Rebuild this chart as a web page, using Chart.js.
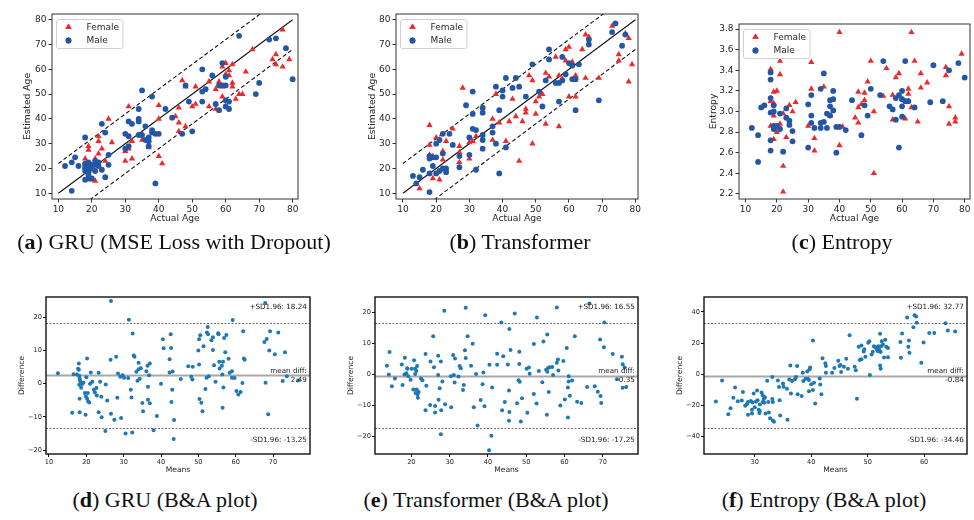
<!DOCTYPE html>
<html>
<head>
<meta charset="utf-8">
<script src="https://cdn.jsdelivr.net/npm/chart.js@4.4.1/dist/chart.umd.min.js"></script>
<style>
  html, body { margin: 0; padding: 0; background: #fff; }
  #fig { position: relative; width: 974px; height: 520px; overflow: hidden; }
  canvas { position: absolute; }
  .cap { position: absolute; font-family: "Liberation Serif", serif; font-size: 22px; color: #111;
         white-space: nowrap; transform: translateX(-50%); line-height: 1; }
</style>
</head>
<body>
<div id="fig">
  <canvas id="chartA"></canvas>
  <canvas id="chartB"></canvas>
  <canvas id="chartC"></canvas>
  <canvas id="chartD"></canvas>
  <canvas id="chartE"></canvas>
  <canvas id="chartF"></canvas>
  <div class="cap" style="left:174px;top:231px">(<b>a</b>) GRU (MSE Loss with Dropout)</div>
  <div class="cap" style="left:520px;top:231px">(<b>b</b>) Transformer</div>
  <div class="cap" style="left:842px;top:231px">(<b>c</b>) Entropy</div>
  <div class="cap" style="left:165px;top:489px">(<b>d</b>) GRU (B&amp;A plot)</div>
  <div class="cap" style="left:486px;top:489px">(<b>e</b>) Transformer (B&amp;A plot)</div>
  <div class="cap" style="left:824px;top:489px">(<b>f</b>) Entropy (B&amp;A plot)</div>
</div>
<script>
// ============ DATA ============

// (a) GRU: [actual age, estimated age]
const gruFemale = [
  [77,76],[68,68],[74,64],[75,66],[75,62],[77,61],[79,64],
  [60,62.5],[62,62],[61,59.5],[60,58],[61,57.5],[59,61],
  [58,55],[57,52],[59,53],[62,54.5],[62,53],[66,59],
  [47,55.5],[48,53],[51,53],[55,55],[59,49],[63,48],[64,50],[65,50],
  [55,45],[51,46],[50,45],[57,44],[60,45],[46,44.5],[40,45.5],[31,45],
  [40,40],[45,41],[46,38.5],[48,37],[46,35],[25,40],[26,30.5],[23,28],
  [19,29],[19,27.5],[22,33],[22,31],[22,26],[21,24],[18,24],[24,23],
  [30,27],[31,28],[32,31],[35,31.5],[37,28.5],[32,24],[30,23],[40,25],[41,22],
  [20,15.5],[21,15],[19,19]
];
const gruMale = [
  [64,73.5],[73,72],[75,72.5],[78,68.5],[80,56],[70,54.5],[69,50],
  [59,62.5],[60,57],[53,60],[56,57.5],[58,53.5],[59,53.5],[60,53.5],
  [53,51],[54,52],[48,53.5],[49,47],[53,47],[60,47.5],[61,47],[60,45],
  [57,46],[58,43.5],[61,44],[42,44],[44,40.5],[47,34],[50,35],
  [35,51.5],[38,49],[34,44],[31,39],[32,38],[34,40],[34,39],[36,37],
  [38,35.5],[38,34.5],[39,34],[40,34],[37,32.5],[36,31.5],[37,31],[37,29],
  [30,34],[31,33],[34,33.5],[35,33.5],[30,28],[31,29],
  [18,32.5],[23,38],[24,34.5],[25,25.5],[25,21.5],[23,19.5],[24,16.5],
  [21,23],[12,21],[14,22.5],[15,24.5],[16,21],[14,11],
  [18,22],[18,21],[19,22.5],[19,21],[20,21.5],[18,19],[19,18.5],[19,17.5],
  [18,15.5],[19,16],[20,16],[18,20],[20,20],[19,20.5],
  [21,19],[22,21],[21,21.5],[22,22.5],[39,14]
];

// (b) Transformer: [actual age, estimated age]
const trfFemale = [
  [73,77.5],[77,74.5],[78,72.5],[65,74],[66,73],[64,68],[59,68],[60,69],
  [75,66],[75,63.5],[79,62],[61,63],[59,63.5],[56,65],[53,58.5],[54,57],
  [57,57.5],[58,56],[49,55.5],[48,57.5],[43,48],[38,50],[52,50],[51,49],
  [62,57.5],[65,56.5],[69,56.5],[78,55],[60,49],[62,49],[50,47],
  [47,44],[47,42.5],[50,42],[44,41],[46,39],[42,39],[37,40],[39,38.5],
  [53,38],[57,37],[28,52.5],[18,37.5],[20,32.5],[25,36],[23,31],[18,29.5],
  [27,29],[27,26.5],[27,22.5],[30,24],[30,30.5],[32,33],[31,31],[37,31.5],[41,31],
  [22,27],[22,23.5],[18,25.5],[19,25],[19,16],[21,15.5],[15,12],[49,30],[45,23]
];
const trfMale = [
  [74,78.5],[73,75],[77,74],[66,72],[66,70],[76,69.5],[54,68],[54,64],[58,65],
  [60,62.5],[61,61.5],[63,62],[49,62],[41,56.5],[44,56.5],[43,52.5],[45,53],
  [38,53],[40,51.5],[40,49],[53,55.5],[56,54.5],[57,54.5],[58,55.5],[59,58],
  [61,56],[62,56],[51,51],[47,49],[52,45],[57,47],[62,43.5],[69,47.5],
  [29,45.5],[31,51],[31,42],[34,44.5],[34,42.5],[39,43.5],[37,37],[31,36],[32,35.5],
  [37,34.5],[34,33.5],[34,31.5],[34,28],[38,30],[41,28.5],[30,32.5],[30,25.5],
  [27,25],[27,20.5],[32,19.5],[39,18],[22,34],[24,34],[25,29.5],[20,30],[21,31.5],
  [22,26],[18,25],[18,24],[19,24.5],[20,24.5],[19,21],[22,20],[23,20],[21,19],[23,18.5],
  [18,18],[20,18],[16,19.5],[13,17],[15,16.5],[14,14],[18,10.5]
];

// (c) Entropy: [actual age, entropy]
const entFemale = [
  [40,3.77],[63,3.77],[79,3.56],[18,3.41],[21,3.49],[31,3.48],[50,3.49],[64,3.49],
  [55,3.42],[74,3.43],[74,3.35],[21,3.36],[59,3.37],[58,3.33],[66,3.37],[68,3.28],
  [49,3.29],[35,3.24],[31,3.22],[66,3.23],[62,3.22],[19,3.19],[20,3.2],[46,3.19],
  [48,3.18],[54,3.15],[57,3.16],[62,3.17],[60,3.12],[18,3.1],[19,3.08],[26,3.09],
  [24,3.06],[25,3.0],[48,3.11],[47,3.07],[46,3.04],[62,3.1],[63,3.04],[75,3.05],
  [51,3.0],[19,2.96],[22,2.98],[37,2.96],[45,2.94],[46,2.89],[57,2.92],[61,2.93],
  [65,2.9],[77,2.94],[77,2.9],[75,2.88],[30,2.86],[18,2.86],[21,2.88],[20,2.8],
  [41,2.85],[19,2.73],[23,2.75],[32,2.74],[40,2.67],[32,2.62],[22,2.47],[51,2.4],[22,2.22]
];
const entMale = [
  [12,2.84],[14,2.77],[14,2.51],[15,3.04],[16,3.06],[18,3.38],[18,3.31],[18,3.13],
  [18,2.99],[18,2.72],[18,2.62],[19,3.06],[19,3.0],[19,2.86],[19,2.83],[20,2.86],
  [21,2.98],[21,2.83],[23,3.03],[23,2.94],[24,2.91],[24,2.87],[25,2.81],[25,2.71],
  [22,2.61],[30,3.07],[31,3.16],[31,2.96],[31,2.89],[30,2.65],[32,2.84],[34,3.22],
  [35,3.37],[34,2.89],[35,2.9],[34,2.84],[36,2.98],[37,3.11],[38,3.12],[38,3.2],
  [37,3.05],[38,3.01],[37,2.96],[36,2.84],[39,2.6],[39,2.85],[40,2.85],[42,2.82],
  [44,3.11],[47,2.77],[48,3.06],[49,2.96],[50,3.22],[54,3.49],[53,3.16],[56,3.05],
  [57,3.02],[58,3.13],[59,3.16],[58,2.92],[59,2.65],[60,3.2],[60,3.12],[60,3.05],
  [60,2.95],[61,3.49],[61,3.1],[62,3.1],[64,3.04],[69,3.09],[70,3.45],[73,3.1],
  [75,3.4],[78,3.47],[80,3.33]
];

// (d) GRU Bland-Altman: [mean, difference]
const gruBA = [
  [12.4,3.2],[16.2,-8.7],[16.6,2.9],[17.5,2.8],[17.8,4.5],[18,6.1],[18,4.2],[18.1,2.4],
  [18.2,1.6],[18.3,1],[18.5,0.5],[18.1,-0.3],[18.2,-4.5],[18.2,-8.6],[18.6,-1.2],[18.9,-0.1],
  [19.2,0.3],[19.6,-2.8],[19.8,-9.3],[20,2],[20.2,7.6],[19.9,-3.8],[20.2,-4.5],[20.4,-2.8],
  [20.5,-5.3],[20.8,-5.6],[21,0],[21.2,3.4],[21.6,0.6],[22,-1.8],[22.3,-2.6],[22.7,-1.3],
  [22.8,-3.5],[23.3,3.3],[23.3,-8.6],[23.7,0.6],[24,-3.9],[24.1,-10.1],[25.1,-14.2],[25.2,-0.2],
  [25.6,-5],[26.6,24.9],[26.5,7.2],[26.6,-9],[27.5,-10.8],[28,8.1],[28.3,-4.2],[28.5,3.1],
  [29.1,2.1],[29.3,-10.3],[29.7,2.6],[30.1,1.8],[30.5,-15],[31.2,1.7],[31.4,19.3],[31.9,-1.8],
  [32.1,-4.1],[32.4,15.1],[32.3,-14.7],[32.7,8.5],[32.9,8.1],[33.4,3.6],[33.7,0.9],[34,6.3],
  [34,4.4],[34.3,1.5],[34.6,4.7],[35,-5.8],[35.2,-8.3],[36.1,3.8],[36.4,5.4],[36.5,-4.8],
  [36.5,-0.9],[36.8,2.6],[37,-5.9],[37,6.1],[38,-14],[38.9,-9.7],[40,0],[40.5,13.4],
  [40.7,10.7],[42.3,7.4],[42.3,3.4],[42.6,14.9],[42.7,10.8],[42.8,-5.5],[43,-1.8],[43.1,3.7],
  [43.5,-10.9],[43.4,-16.6],[45.3,1.4],[47.3,5.3],[48.1,2.1],[48.4,1.3],[48.5,5.1],[50,10],
  [50.2,13.4],[50.2,5.8],[50.3,-4.6],[50.5,14.6],[50.8,-5.7],[51.1,-8.3],[51.4,11.3],[51.9,-1.6],
  [52.2,1.8],[52.3,15.4],[52.5,17.1],[52.6,14.9],[52.8,2.3],[53.5,13.1],[53.9,14],[53.9,10.2],
  [54.2,5.6],[54.6,0.6],[55.3,15.2],[55.4,14.9],[55.6,6.6],[55.7,4.6],[56.3,5.4],[56.4,2.8],
  [56.5,-7.2],[56.6,6.6],[56.7,-1.1],[56.9,13.8],[57.2,9.5],[57.5,14.7],[58.1,7.5],[58.4,3.3],
  [59,3.8],[59.2,19.2],[59,1.8],[59.7,1.7],[60.2,-2.2],[60.7,-3.2],[61.3,-2.5],[61.8,0.2],
  [62,15.8],[62.2,7.6],[62.4,7.2],[67.9,24.3],[67.7,12.6],[68.3,13.5],[68,0.3],[68.7,-9.2],
  [69,10],[69.2,15.8],[70.5,8.9],[71.4,15.4],[72.6,0.8],[73.2,9.5],[73.7,2.3],[76.7,1]
];
const gruLimits = [2.49, 18.24, -13.25]; // mean, +1.96 SD, -1.96 SD

// (e) Transformer Bland-Altman: [mean, difference]
const trfBA = [
  [13.6,2.8],[14.1,0],[14.3,7.2],[14.9,-3.8],[15.7,-1.3],[17.5,3.2],[17.7,-3.4],[18.2,0],
  [18.3,5.4],[18.7,0.4],[18.9,2],[19,1.8],[19.2,-0.6],[19.8,-1.7],[20.1,1.8],[20.5,-4.9],
  [20.7,4.6],[21,0.1],[21,1.8],[21.1,-6],[21.3,1.1],[21.4,-4.9],[21.5,2.7],[21.6,-6.4],
  [21.7,-7.5],[21.9,-5.7],[22.5,-1.3],[22.9,-1.9],[23.7,6.6],[23.7,-11.6],[23.9,-3.7],[24.9,-9.9],
  [25,4.2],[25.7,12.3],[25.9,2.3],[26.2,-10.2],[26.2,-12.3],[27,6],[27,-0.2],[27.1,-8.2],
  [27.4,-4.5],[27.7,4.2],[27.7,-19.3],[27.8,-11.6],[28.1,-2.3],[28.6,20.6],[28.8,-9.6],[30.3,-0.6],
  [30.4,-10.6],[30.9,6.3],[31.1,-0.2],[31.3,-2.6],[31.4,5.1],[32.3,-0.7],[32.6,2.7],[32.9,2],
  [33.5,-5],[33.7,-3.4],[34,7.8],[34.2,5.3],[34.2,21.5],[34.7,12.3],[35.6,2.8],[36,9.9],
  [36.3,-10.6],[36.9,0.1],[37.3,-16.5],[38.1,-8.3],[38.6,-3.2],[38.8,0.6],[39.1,-10.3],[39.3,19.1],
  [40.4,3.1],[40.3,-24.5],[40.9,-19.8],[41.1,-4.2],[42.4,6.7],[42.4,3.1],[43.5,16.8],[43.7,-11.6],
  [44,5.9],[44.4,-8.9],[45.2,3.2],[45.5,-5.2],[45.6,14.7],[45.6,-12.1],[45.5,-15],[45.9,7.9],
  [47,19.7],[47.6,-9.3],[48,-1.9],[48.2,3.4],[48.2,7.3],[48.3,-2.4],[48.6,-15.2],[48.9,-7.7],
  [50.1,1.8],[50.3,-12.4],[50.7,2.2],[50.9,0.2],[52,9.8],[52,-6.3],[52.7,-9.4],[52.8,18.4],
  [53.3,1.1],[54.2,-2.5],[54.5,10.6],[55.2,1.5],[55.5,0.9],[55.5,12.9],[55.4,-13],[55.7,2.1],
  [55.9,-5.7],[56.1,2.3],[56.8,2.4],[57,-0.2],[58,21.6],[58,3.8],[58.3,4.8],[58.4,1.3],
  [58.9,-10],[59.7,4.3],[60.1,-8.1],[60.6,8.5],[60.9,-13.9],[60.9,-4.2],[61.1,-0.6],[61.1,-2.3],
  [61.4,-6.9],[62,-2],[62.7,12.3],[63.3,-8.8],[64.4,-9.2],[65.9,-4.1],[66.5,22.9],[67.9,-3.8],
  [68.7,-5.6],[69.4,-7],[69.3,11.3],[69.6,-9.2],[70.4,16.8],[70.3,8.8],[72.6,6.6],[73.7,-1.6],
  [75,5.7],[75.2,3.3],[75.2,-4.3],[75.7,2.2],[76.1,-4.1]
];
const trfLimits = [-0.35, 16.55, -17.25];

// (f) Entropy Bland-Altman: [mean, difference]
const entBA = [
  [23.1,-17.6],[24.2,-4],[25.3,-25.7],[25.7,-21.9],[26.5,-8.6],[26.2,-15.2],[27,-17.3],[27.7,-16.9],
  [27.9,-11.4],[28.3,-20.3],[28.6,-19.3],[28.8,-17.8],[28.8,-26.1],[29.3,-17.2],[29.5,-22.9],[29.6,-18.2],
  [29.5,-25.2],[29.8,-12.4],[30,-21.3],[30.2,-17.6],[30.4,-10.4],[30.5,-16.8],[30.7,-22.9],[30.8,-25],
  [30.9,-19.5],[30.9,-23.7],[31.2,-11.8],[31.4,-13.5],[31.4,-17.8],[31.6,-16],[31.8,-14.8],[31.7,-18.4],
  [31.9,-25.3],[32.2,-4.2],[33.1,-1.8],[32.4,-17.8],[32.5,-24.6],[32.7,-28.3],[33.1,-16],[33.2,-17.8],
  [33.2,-29.8],[33.4,-30.6],[34.1,-4],[34.3,-8.2],[34.4,-16.8],[34.5,-26.6],[35,-5.9],[35.1,-8],
  [35.7,-9.3],[35.8,-29.3],[36.1,-3.4],[36.3,5.6],[36.4,-12.4],[36.6,-4.4],[37.1,-3.2],[37.3,-1.8],
  [37.5,5.2],[37.6,-12.9],[38.3,-14],[38.5,0.9],[38.6,-4.4],[39,-2.9],[39.3,1.8],[39.4,-2.9],
  [39.6,-11],[39.6,-3.7],[39.7,3.1],[39.8,4.3],[40,-6.5],[40.3,21.6],[40.3,-10.1],[40.5,-5.5],
  [40.7,-18.9],[41.5,-2.7],[41.6,-6.7],[41.8,-12.9],[42,10.3],[42.5,7.1],[42.6,5.2],[42.6,0.9],
  [43.7,0.9],[44.1,3.9],[44.8,8.6],[45,5.2],[45.3,1.4],[45.2,5.9],[45.8,4.8],[46.2,9.9],
  [46.5,3.5],[46.8,25],[47.7,4.8],[47.9,2.5],[48.1,-15.7],[48.4,17.6],[48.6,9.1],[48.9,18.5],
  [48.9,9.6],[49.3,14.6],[49.4,16],[49.6,11.2],[50.1,20.2],[50.3,21.2],[50.4,-0.5],[50.7,12.7],
  [50.9,14.4],[51.1,18],[51.3,17.4],[51.6,16],[51.7,17.2],[51.8,14.8],[51.9,18],[52.1,15.5],
  [52.3,14.2],[52.4,18],[52.2,25.9],[52.2,5.6],[52.3,3.5],[52.5,21.1],[52.7,19],[52.9,10.7],
  [53.1,22.2],[53.3,17.6],[53.6,16.9],[53.6,10.9],[55.8,20.6],[55.9,10.6],[56.1,26.2],[57,36.4],
  [57.2,17.6],[57.3,21.6],[57.4,13.8],[58.1,30.2],[58.3,37.9],[58.6,37],[58.7,33],[59.5,7.4],
  [59.9,20.4],[60.9,26.4],[61.8,26.4],[63.8,32.8],[64.2,28.1],[65.5,27.4]
];
const entLimits = [-0.84, 32.77, -34.46];

// identity line and the +/- band drawn in (a) and (b)
const refLineX = [10, 80];
const bandOffset = 12;

// tick labels
const ageTicks = [10, 20, 30, 40, 50, 60, 70, 80];
const entropyTicks = [2.2, 2.4, 2.6, 2.8, 3.0, 3.2, 3.4, 3.6, 3.8];
const gruMeanTicks = [10, 20, 30, 40, 50, 60, 70];
const trfMeanTicks = [20, 30, 40, 50, 60, 70];
const entMeanTicks = [30, 40, 50, 60];
const diffTicks20 = [-20, -10, 0, 10, 20];
const diffTicks40 = [-40, -20, 0, 20, 40];

// ============ STYLE ============

Chart.defaults.font.family = '"DejaVu Sans", sans-serif';
Chart.defaults.color = '#262626';
Chart.defaults.animation = false;

const RED = '#ec2a2c';
const BLUE = '#2456a6';
const BA_BLUE = '#1f77b4';

const toPoints = arr => arr.map(([x, y]) => ({ x, y }));

function femaleSet(arr) {
  return { label: 'Female', data: toPoints(arr), pointStyle: 'triangle', pointRadius: 3.6,
           pointBackgroundColor: RED, pointBorderWidth: 0, legend: true, order: 2 };
}
function maleSet(arr) {
  return { label: 'Male', data: toPoints(arr), pointStyle: 'circle', pointRadius: 2.9,
           pointBackgroundColor: BLUE, pointBorderWidth: 0, legend: true, order: 1 };
}
function refLines() {
  const mk = (off, dash) => ({
    data: refLineX.map(x => ({ x, y: x + off })), showLine: true, borderColor: '#111',
    borderWidth: 1.1, borderDash: dash, pointRadius: 0, order: 3
  });
  return [mk(0, []), mk(bandOffset, [4, 2.5]), mk(-bandOffset, [4, 2.5])];
}

// ============ PLUGINS ============

function framePlugin(color, width) {
  return {
    id: 'frame',
    afterDraw(chart) {
      const { ctx, chartArea: a } = chart;
      ctx.save();
      ctx.strokeStyle = color;
      ctx.lineWidth = width;
      ctx.strokeRect(a.left, a.top, a.right - a.left, a.bottom - a.top);
      ctx.restore();
    }
  };
}

function boxLegend() {
  return {
    id: 'boxLegend',
    afterDatasetsDraw(chart) {
      const { ctx, chartArea: a } = chart;
      const items = chart.data.datasets.filter(d => d.legend);
      ctx.save();
      ctx.font = '9px "DejaVu Sans"';
      const textW = Math.max(...items.map(d => ctx.measureText(d.label).width));
      const x0 = a.left + 4.5, y0 = a.top + 5.5;
      const w = 30 + textW + 4, h = 29;
      ctx.fillStyle = 'rgba(255,255,255,0.85)';
      ctx.strokeStyle = '#d0d0d0';
      ctx.lineWidth = 1;
      ctx.beginPath();
      ctx.roundRect(x0, y0, w, h, 2.5);
      ctx.fill();
      ctx.stroke();
      items.forEach((d, i) => {
        const cy = y0 + 7.5 + i * 13.5;
        ctx.fillStyle = d.pointBackgroundColor;
        Chart.helpers.drawPoint(ctx, { pointStyle: d.pointStyle, radius: d.pointRadius, rotation: 0, borderWidth: 0 }, x0 + 12, cy);
        ctx.fill();
        ctx.fillStyle = '#262626';
        ctx.textBaseline = 'middle';
        ctx.fillText(d.label, x0 + 30, cy + 0.5);
      });
      ctx.restore();
    }
  };
}

function blandAltman(limits) {
  const [mean, upper, lower] = limits;
  const hline = (chart, v) => {
    const { ctx, chartArea: a, scales: { y } } = chart;
    const py = Math.round(y.getPixelForValue(v)) + 0.5;
    ctx.beginPath();
    ctx.moveTo(a.left, py);
    ctx.lineTo(a.right, py);
    ctx.stroke();
  };
  return {
    id: 'blandAltman',
    beforeDatasetsDraw(chart) {
      const { ctx } = chart;
      ctx.save();
      ctx.strokeStyle = '#a8a8a8';
      ctx.lineWidth = 2;
      hline(chart, mean);
      ctx.strokeStyle = '#6e6e6e';
      ctx.lineWidth = 1;
      ctx.setLineDash([2, 1.5]);
      hline(chart, upper);
      hline(chart, lower);
      ctx.restore();
    },
    afterDatasetsDraw(chart) {
      const { ctx, chartArea: a, scales: { y } } = chart;
      const w = a.right - a.left, h = a.bottom - a.top;
      const rx = a.right - 0.012 * w;
      const my = y.getPixelForValue(mean);
      ctx.save();
      ctx.font = '7.2px "DejaVu Sans"';
      ctx.fillStyle = '#1a1a1a';
      ctx.textAlign = 'right';
      ctx.textBaseline = 'bottom';
      ctx.fillText('+SD1.96: ' + upper.toFixed(2), rx, a.top + 0.08 * h + 1);
      ctx.fillText('-SD1.96: ' + lower.toFixed(2), rx, a.bottom - 0.07 * h + 1);
      ctx.textBaseline = 'middle';
      ctx.fillText('mean diff:', rx, my - 4.3);
      ctx.fillText(mean.toFixed(2), rx, my + 4.3);
      ctx.restore();
    }
  };
}

// ============ CHART BUILDER ============

function axis(dir, range, ticks, title, size, cfg) {
  return {
    type: 'linear',
    min: range[0],
    max: range[1],
    afterBuildTicks: s => { s.ticks = ticks.map(v => ({ value: v })); },
    afterFit: s => { if (dir === 'x') s.height = size; else s.width = size; },
    grid: { display: true, drawOnChartArea: false, drawTicks: true, tickLength: cfg.tickLen,
            color: cfg.frameColor, lineWidth: 1 },
    border: { display: false },
    ticks: { font: { size: cfg.tickSize }, color: '#262626', padding: cfg.tickPad,
             maxRotation: 0, autoSkip: false, callback: v => cfg.fmt(v) },
    title: { display: true, text: title, font: { size: cfg.titleSize }, color: '#262626', padding: 0 }
  };
}

function buildChart(cfg) {
  const cv = document.getElementById(cfg.id);
  const [cx, cy, cw, ch] = cfg.canvas;
  const [L, T, R, B] = cfg.area;
  cv.width = cw;
  cv.height = ch;
  Object.assign(cv.style, { left: cx + 'px', top: cy + 'px', width: cw + 'px', height: ch + 'px' });

  const lh = cfg.titleSize * 1.2;
  const padLeft = cfg.yTitleX - cx - lh / 2;
  const padBottom = cy + ch - cfg.xTitleY - lh / 2;
  const yWidth = L - cx - padLeft;
  const xHeight = cy + ch - padBottom - B;

  const plugins = [framePlugin(cfg.frameColor, cfg.frameWidth)];
  if (cfg.legend) plugins.push(boxLegend());
  if (cfg.limits) plugins.push(blandAltman(cfg.limits));

  return new Chart(cv, {
    type: 'scatter',
    data: { datasets: cfg.datasets },
    options: {
      responsive: false,
      animation: false,
      devicePixelRatio: 1,
      layout: { padding: { left: padLeft, top: T - cy, right: cx + cw - R, bottom: padBottom } },
      plugins: { legend: { display: false }, tooltip: { enabled: false } },
      scales: {
        x: axis('x', cfg.xRange, cfg.xTicks, cfg.xTitle, xHeight, cfg),
        y: axis('y', cfg.yRange, cfg.yTicks, cfg.yTitle, yWidth, cfg)
      }
    },
    plugins
  });
}

const intFmt = v => String(v);
const minusFmt = v => String(v).replace('-', '\u2212');

const topRow = { tickLen: 3.5, tickPad: 2, tickSize: 9, titleSize: 9.2, frameColor: '#333', frameWidth: 1, legend: true };
const botRow = { tickLen: 3, tickPad: 1, tickSize: 6.6, titleSize: 7.6, frameColor: '#111', frameWidth: 1.4, fmt: minusFmt };

buildChart(Object.assign({}, topRow, {
  id: 'chartA', canvas: [0, 0, 320, 235], area: [52, 14, 298, 199], yTitleX: 28, xTitleY: 219,
  xRange: [8.1, 81.6], yRange: [7.7, 82.3], xTicks: ageTicks, yTicks: ageTicks, fmt: intFmt,
  xTitle: 'Actual Age', yTitle: 'Estimated Age',
  datasets: [femaleSet(gruFemale), maleSet(gruMale), ...refLines()]
}));

buildChart(Object.assign({}, topRow, {
  id: 'chartB', canvas: [340, 0, 320, 235], area: [396, 14, 638, 199], yTitleX: 372.5, xTitleY: 219,
  xRange: [7.9, 80.8], yRange: [7.7, 82.3], xTicks: ageTicks, yTicks: ageTicks, fmt: intFmt,
  xTitle: 'Actual Age', yTitle: 'Estimated Age',
  datasets: [femaleSet(trfFemale), maleSet(trfMale), ...refLines()]
}));

buildChart(Object.assign({}, topRow, {
  id: 'chartC', canvas: [680, 0, 294, 235], area: [739, 24, 973, 199], yTitleX: 714, xTitleY: 219,
  xRange: [7.9, 81.7], yRange: [2.15, 3.85], xTicks: ageTicks, yTicks: entropyTicks,
  fmt: v => (v >= 2 && v < 4 ? v.toFixed(1) : String(v)),
  xTitle: 'Actual Age', yTitle: 'Entropy',
  datasets: [femaleSet(entFemale), maleSet(entMale)]
}));

const baSet = arr => ({ data: toPoints(arr), pointRadius: 2, pointBackgroundColor: BA_BLUE, pointBorderWidth: 0 });

buildChart(Object.assign({}, botRow, {
  id: 'chartD', canvas: [0, 270, 330, 215], area: [46, 297, 310, 454], yTitleX: 22, xTitleY: 470,
  xRange: [9.2, 79.9], yRange: [gruLimits[0] - 23.63, gruLimits[0] + 23.63],
  xTicks: gruMeanTicks, yTicks: diffTicks20, xTitle: 'Means', yTitle: 'Difference',
  limits: gruLimits, datasets: [baSet(gruBA)]
}));

buildChart(Object.assign({}, botRow, {
  id: 'chartE', canvas: [330, 270, 330, 215], area: [375, 297, 638, 454], yTitleX: 351, xTitleY: 470,
  xRange: [10.5, 79.2], yRange: [trfLimits[0] - 25.35, trfLimits[0] + 25.35],
  xTicks: trfMeanTicks, yTicks: diffTicks20, xTitle: 'Means', yTitle: 'Difference',
  limits: trfLimits, datasets: [baSet(trfBA)]
}));

buildChart(Object.assign({}, botRow, {
  id: 'chartF', canvas: [660, 270, 314, 215], area: [704, 297, 967, 454], yTitleX: 680, xTitleY: 470,
  xRange: [21, 67.6], yRange: [entLimits[0] - 50.42, entLimits[0] + 50.42],
  xTicks: entMeanTicks, yTicks: diffTicks40, xTitle: 'Means', yTitle: 'Difference',
  limits: entLimits, datasets: [baSet(entBA)]
}));
</script>
</body>
</html>
